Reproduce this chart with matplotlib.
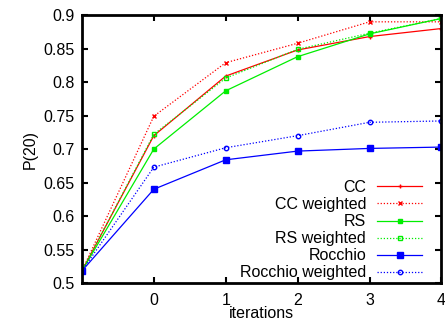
import matplotlib
matplotlib.use("Agg")
import matplotlib.pyplot as plt
import numpy as np

plt.rcParams['font.family'] = ['Liberation Sans', 'DejaVu Sans']

iters = [-1, 0, 1, 2, 3, 4]
cc = [0.518, 0.720, 0.809, 0.848, 0.868, 0.880]
cc_w = [0.518, 0.749, 0.829, 0.858, 0.890, 0.890]
rs = [0.518, 0.700, 0.787, 0.838, 0.872, 0.895]
rs_w = [0.518, 0.722, 0.806, 0.849, 0.873, 0.895]
rocchio = [0.518, 0.640, 0.684, 0.697, 0.701, 0.703]
rocchio_w = [0.518, 0.673, 0.702, 0.720, 0.740, 0.742]

xticks = [0, 1, 2, 3, 4]
yticks = np.arange(0.5, 0.901, 0.05)

fig = plt.figure(figsize=(4.45, 3.22), dpi=100)
ax = fig.add_axes([0.184, 0.121, 0.808, 0.832])

dot = (0, (1, 1.5))
ax.plot(iters, cc, color='#ff0000', lw=0.9, marker='+', ms=3.5, mew=1, label='CC')
ax.plot(iters, cc_w, color='#ff0000', lw=0.9, ls=dot, marker='x', ms=3.5, mew=1, label='CC weighted')
ax.plot(iters, rs, color='#00ee00', lw=0.9, marker='s', ms=2.8, label='RS')
ax.plot(iters, rs_w, color='#00ee00', lw=0.9, ls=dot, marker='s', ms=3.5, mfc='none', mew=1, label='RS weighted')
ax.plot(iters, rocchio, color='#0000ff', lw=0.9, marker='s', ms=3.8, label='Rocchio')
ax.plot(iters, rocchio_w, color='#0000ff', lw=0.9, ls=dot, marker='o', ms=3.2, mfc='none', mew=1, label='Rocchio weighted')

ax.set_xlim(-1, 4)
ax.set_ylim(0.5, 0.9)
ax.set_xticks(xticks)
ax.set_yticks(yticks)
ax.set_yticklabels([('%.2f' % v).rstrip('0').rstrip('.') if v != 0.5 else '0.5' for v in yticks])
ax.tick_params(direction='in', length=4, width=1.5, top=True, right=True, labelsize=11.5)
ax.tick_params(axis='x', pad=7)
ax.tick_params(axis='y', pad=5)
for s in ax.spines.values():
    s.set_linewidth(2)

ax.set_xlabel('iterations', fontsize=11.5, labelpad=-1.5)
ax.set_ylabel('P(20)', fontsize=11.5, labelpad=4)

ax.legend(loc='lower right', markerfirst=False, frameon=False, fontsize=11.5,
          handlelength=2.8, handletextpad=0.7, labelspacing=0.13,
          borderpad=0, borderaxespad=0, bbox_to_anchor=(0.946, 0.01))

fig.savefig('out.png', dpi=100)
